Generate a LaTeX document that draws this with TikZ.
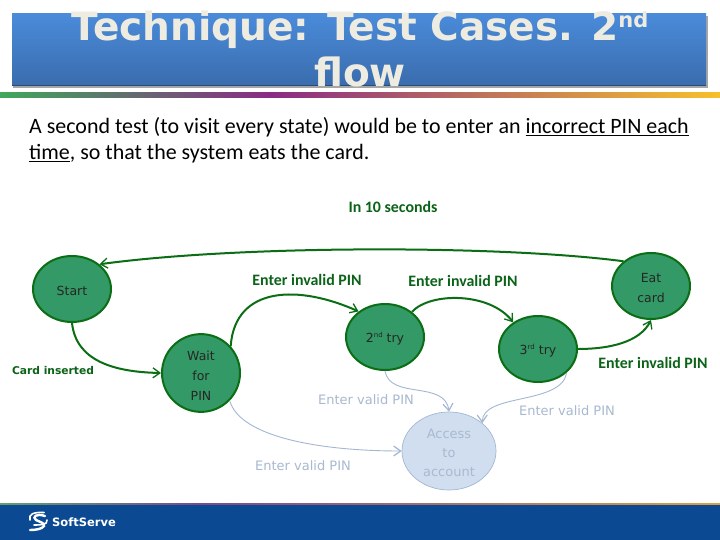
\documentclass[tikz,border=0pt]{standalone}
\usepackage{fontspec}
\setmainfont{Carlito}
\newfontfamily\dvs{DejaVu Sans}
\usetikzlibrary{shapes.geometric,arrows.meta}
\definecolor{gfill}{HTML}{339966}
\definecolor{gline}{HTML}{0B6E14}
\definecolor{gtext}{HTML}{0B6318}
\definecolor{bfill}{HTML}{D0DEF0}
\definecolor{bline}{HTML}{A3B7D3}
\definecolor{blabel}{HTML}{A9B9D0}
\definecolor{titlec}{HTML}{EEECE1}
\definecolor{bartop}{HTML}{4A8BDA}
\definecolor{barbot}{HTML}{3A6CAD}
\definecolor{divg}{HTML}{3FA85B}
\definecolor{divp}{HTML}{8B2B85}
\definecolor{divy}{HTML}{F7C02B}
\definecolor{footg}{HTML}{5FA06E}
\definecolor{footp}{HTML}{7A4A8C}
\definecolor{footy}{HTML}{D9A040}
\definecolor{footb}{HTML}{0B4A92}
\newcommand\dnstrut{\rule{0pt}{14pt}}
\tikzset{
 state/.style={ellipse,draw=gline,line width=2pt,fill=gfill,minimum width=78pt,minimum height=66pt,inner sep=0pt,align=center,font=\dvs\fontsize{12.5}{20}\selectfont,text=black!85},
 acc/.style={ellipse,draw=bline,line width=.7pt,fill=bfill,minimum width=94pt,minimum height=78pt,inner sep=0pt,align=center,font=\dvs\fontsize{13}{19}\selectfont,text=blabel},
 gedge/.style={draw=gline,line width=2pt,-{Straight Barb[length=7pt,width=10pt,line width=1.3pt]}},
 bedge/.style={draw=bline,line width=.9pt,-{Straight Barb[length=7pt,width=10pt,line width=1.2pt]}},
 glabel/.style={font=\bfseries\fontsize{15.9}{18}\selectfont,text=gtext,inner sep=0pt},
 blab/.style={font=\dvs\fontsize{13}{15}\selectfont,text=blabel,inner sep=0pt},
}
\begin{document}
\begin{tikzpicture}[x=1pt,y=-1pt]
\useasboundingbox (0,0) rectangle (720,540);
\fill[white] (0,0) rectangle (720,540);
% title bar
\fill[black!35] (13,16) rectangle (708,88);
\shade[top color=bartop,bottom color=barbot] (12,14) rectangle (706,86);
\draw[barbot!70!black,line width=1pt] (12,86) -- (706,86);
\node[inner sep=0pt,anchor=base,text=titlec,font=\dvs\bfseries\fontsize{39}{44}\selectfont] (title1) at (360,41) {Technique: Test Cases. 2\raisebox{13pt}{\fontsize{21}{24}\selectfont nd}};
\node[inner sep=0pt,anchor=base,text=titlec,font=\dvs\bfseries\fontsize{39}{44}\selectfont] (title2) at (360,87) {flow};
% divider
\shade[left color=divg,right color=divp] (0,93) rectangle (270,98);
\shade[left color=divp,right color=divy] (270,93) rectangle (720,98);
% text
\node[anchor=base west,inner sep=0pt,font=\fontsize{21.95}{24}\selectfont] (l1) at (29,134) {A second test (to visit every state) would be to enter an \underline{incorrect PIN each}};
\node[anchor=base west,inner sep=0pt,font=\fontsize{21.95}{24}\selectfont] (l2) at (29,160) {\underline{time}, so that the system eats the card.};
% states
\node[state] (start) at (72,289) {\dnstrut Start};
\node[state] (wait) at (201,373) {\rule{0pt}{15pt}Wait\\for\\PIN};
\node[state] (try2) at (385,337) {\dnstrut 2\raisebox{.45em}{\fontsize{7}{8}\selectfont nd} try};
\node[state] (try3) at (538,349) {\dnstrut 3\raisebox{.45em}{\fontsize{7}{8}\selectfont rd} try};
\node[state] (eat) at (651,286) {\dnstrut Eat\\card};
\node[acc] (access) at (449,451) {\dnstrut Access\\to\\account};
% green edges
\draw[gedge] (start.south) .. controls (76,360) and (112,372) .. (wait.west);
\draw[gedge] (wait.42) .. controls (235,285) and (300,285) .. (try2.136);
\draw[gedge] (try2.43) .. controls (430,292) and (490,292) .. (try3.133);
\draw[gedge] (try3.east) .. controls (610,349) and (640,342) .. (eat.south);
\draw[gedge] (eat.138) .. controls (500,245) and (240,245) .. (start.42);
% blue edges
\draw[bedge] (wait.-44) .. controls (240,437) and (320,451) .. (access.west);
\draw[bedge] (try2.south) .. controls (390,400) and (445,380) .. (access.north);
\draw[bedge] (try3.-40) .. controls (562,405) and (482,393) .. (access.40);
% labels
\node[glabel] (q0) at (393,207) {In 10 seconds};
\node[glabel] (q1) at (307,280) {Enter invalid PIN};
\node[glabel] (q2) at (463,281) {Enter invalid PIN};
\node[glabel] (q3) at (653,363) {Enter invalid PIN};
\node[inner sep=0pt,text=gtext,font=\dvs\bfseries\fontsize{10.7}{12}\selectfont] (q4) at (53,371) {Card inserted};
\node[blab] (v1) at (366,400) {Enter valid PIN};
\node[blab] (v2) at (303,466) {Enter valid PIN};
\node[blab] (v3) at (567,411) {Enter valid PIN};
% footer
\shade[left color=footg,right color=footp] (0,503) rectangle (200,504.5);
\shade[left color=footp,right color=footy] (200,503) rectangle (720,504.5);
\fill[footb] (0,504.5) rectangle (720,540);
% logo
\draw[white,line width=2.4pt,line cap=round] (45,516) .. controls (36,513) and (32,517) .. (36,520) .. controls (40,522) and (45,523) .. (44,526) .. controls (42,529) and (36,530) .. (30,530);
\draw[white,line width=1.6pt,line cap=round] (44,512.5) .. controls (34,512) and (28,514) .. (30,520);
\draw[white,line width=1.6pt,line cap=round] (34,525) .. controls (40,525) and (48,525) .. (47,520);
\node[inner sep=0pt,anchor=west,text=white,font=\dvs\bfseries\fontsize{11.5}{13}\selectfont] (logo) at (52,522) {SoftServe};
\end{tikzpicture}
\end{document}
